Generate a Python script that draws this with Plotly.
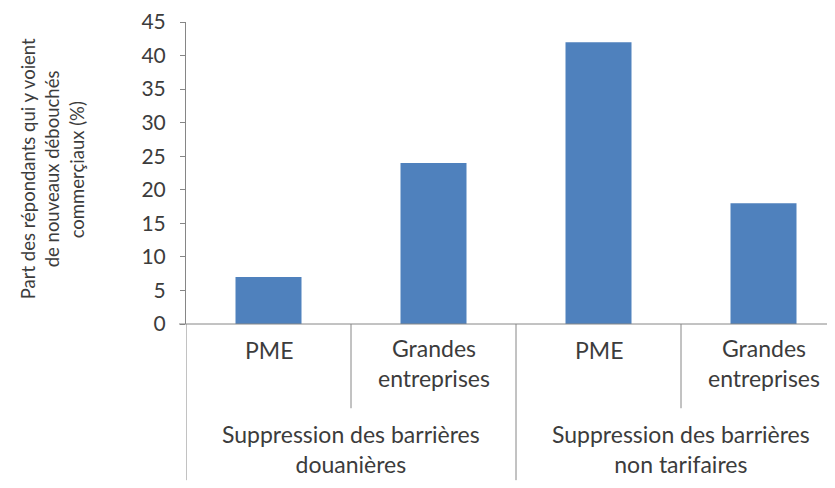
import plotly.graph_objects as go

# Data
group_labels = ["Suppression des barrières<br>douanières",
                "Suppression des barrières<br>non tarifaires"]
subcat_labels = ["PME", "Grandes<br>entreprises", "PME", "Grandes<br>entreprises"]
values = [7, 24, 42, 18]
y_ticks = [0, 5, 10, 15, 20, 25, 30, 35, 40, 45]
y_title_lines = ["Part des répondants qui y voient", "de nouveaux débouchés", "commerçiaux (%)"]

# The page body has an 8px margin; work in page pixels and convert.
OFF = 8
W, H = 835 - OFF, 488 - OFF
AXIS_X = 186 - OFF          # y-axis position (figure px)
TOP = 18 - OFF              # y = 45
Y0 = 324.5 - OFF            # y = 0
L, R, T = AXIS_X, 0, TOP
B = H - Y0
plot_h = Y0 - TOP
plot_w = W - L - R

def py(page_px):
    return (Y0 - (page_px - OFF)) / plot_h

def px_x(page_px):
    return ((page_px - OFF) - L) / plot_w

FONT = "Lato, 'Open Sans', sans-serif"
TXT = "#3c3c3c"
AX = "#868686"
LBL = 23

xs = list(range(len(values)))
cat_w = 165.0
x_max = -0.5 + plot_w / cat_w   # last category is cropped at the right edge

fig = go.Figure()
fig.add_trace(go.Bar(x=xs, y=values, marker=dict(color="#4F81BD", line=dict(width=0)),
                     width=0.4, showlegend=False))

fig.update_layout(
    width=W, height=H,
    margin=dict(l=L, r=R, t=T, b=B, pad=0),
    paper_bgcolor="white", plot_bgcolor="white",
    font=dict(family=FONT, size=LBL, color=TXT),
    xaxis=dict(range=[-0.5, x_max], showticklabels=False, showgrid=False, zeroline=False,
               showline=False, ticks=""),
    yaxis=dict(range=[0, 45], tickvals=y_ticks, showgrid=False, zeroline=False,
               showline=True, linecolor=AX, linewidth=1, ticks="outside", ticklen=5,
               tickcolor=AX, ticklabelstandoff=10, ticklabeloverflow="allow",
               tickfont=dict(size=21, color=TXT)),
)

shapes = []
shapes.append(dict(type="line", xref="paper", yref="paper", x0=px_x(179), x1=1, y0=0, y1=0,
                   line=dict(color=AX, width=1)))
for i in range(len(values)):
    xb = i - 0.5
    y_end = py(483) if i % 2 == 0 else py(410)
    shapes.append(dict(type="line", xref="x", yref="paper", x0=xb, x1=xb, y0=0, y1=y_end,
                       line=dict(color=AX, width=1)))
fig.update_layout(shapes=shapes)

ann = []
for i, s in enumerate(subcat_labels):
    yc = 364.5 if "<br>" in s else 351
    ann.append(dict(x=i, y=py(yc), xref="x", yref="paper", text=s, showarrow=False,
                    xanchor="center", yanchor="middle", font=dict(size=LBL, color=TXT)))
for g, s in enumerate(group_labels):
    ann.append(dict(x=2 * g + 0.5, y=py(451), xref="x", yref="paper", text=s,
                    showarrow=False, xanchor="center", yanchor="middle",
                    font=dict(size=LBL, color=TXT)))
title_x = [28, 52, 77]
for k, s in enumerate(y_title_lines):
    ann.append(dict(x=px_x(title_x[k]), y=py(167.5), xref="paper", yref="paper", text=s,
                    showarrow=False, textangle=-90, xanchor="center", yanchor="middle",
                    font=dict(size=18.5, color=TXT)))
fig.update_layout(annotations=ann)

fig.write_html("out.html")
